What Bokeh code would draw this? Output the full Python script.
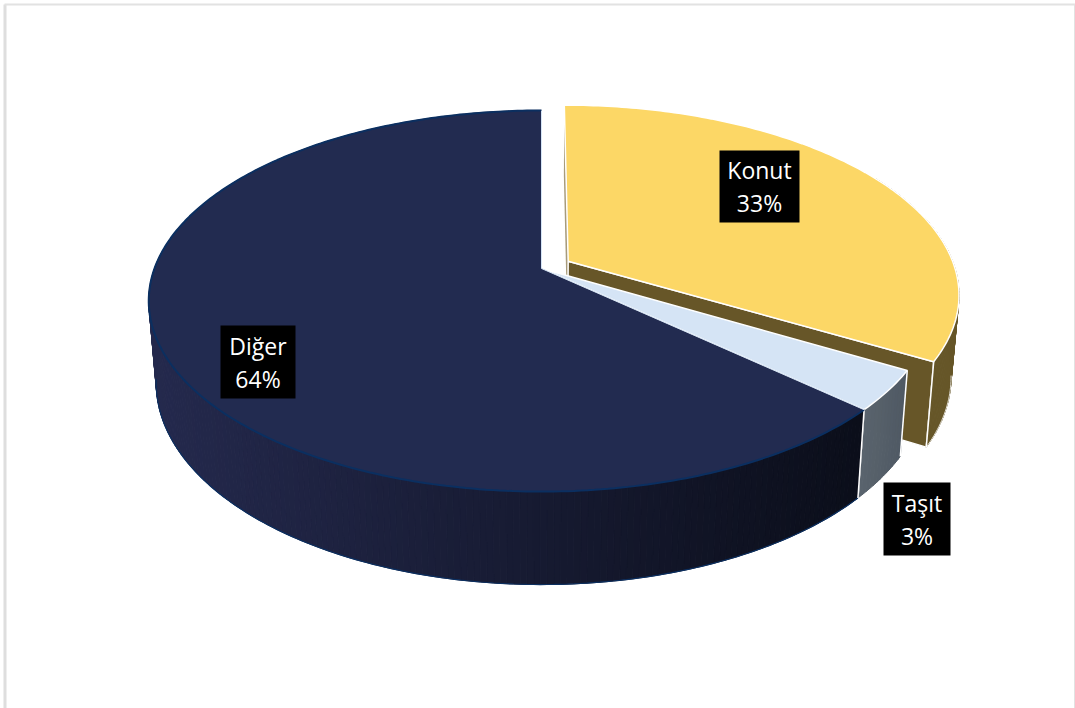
from bokeh.plotting import figure
from bokeh.embed import file_html
from bokeh.resources import INLINE
from bokeh.core.properties import value
import numpy as np

categories = ["Konut", "Taşıt", "Diğer"]
shares = [33.4, 3.4, 63.2]
percent_labels = ["33%", "3%", "64%"]

top_colors = ["#FCD766", "#D5E4F5", "#222B50"]
wall_left = ["#6A5A2C", "#5A646D", "#24294D"]
wall_right = ["#665628", "#4F5964", "#0B0E1A"]
explode = [0.08, 0.0, 0.0]
label_boxes = [(719, 799, 150, 222), (883, 950, 482, 555), (220, 295, 325, 398)]

AX, AY, A, B, K = 541.0, 268.0, 387.0, 185.0, 0.1706
SHRINK, D0, DS = 0.981, 88.0, 0.058


def top(theta, r, off):
    """theta clockwise from 12 o'clock, in degrees; r relative radius."""
    t = np.radians(theta)
    u = r * np.sin(t) + off[0]
    v = -r * np.cos(t) + off[1]
    w = 1 - K * v
    return AX + A * u / w, AY + B * v / w


def bottom(x, y):
    return AX + (x - AX) * SHRINK, y + D0 + (y - 405.0) * DS


def hexrgb(h):
    return np.array([int(h[i:i + 2], 16) for i in (1, 3, 5)], float)


def mix(a, b, f):
    c = hexrgb(a) * (1 - f) + hexrgb(b) * f
    return "#%02x%02x%02x" % tuple(int(round(n)) for n in c)


p = figure(width=1075, height=708, x_range=(0, 1075), y_range=(708, 0),
           output_backend="svg", toolbar_location=None, min_border=0,
           outline_line_color=None, background_fill_color="white", border_fill_color="white")
p.axis.visible = False
p.grid.visible = False

# frame
p.line([4.5, 4.5], [4, 708], line_color="#DEDEDE", line_width=3)
p.line([4, 1074.5, 1074.5], [4, 4, 708], line_color="#E2E2E2", line_width=2)

starts = np.cumsum([0] + shares[:-1]) * 3.6
ends = np.cumsum(shares) * 3.6

for i in range(3):
    a0, a1 = starts[i], ends[i]
    mid = np.radians((a0 + a1) / 2)
    off = (explode[i] * np.sin(mid), -explode[i] * np.cos(mid))
    thetas = np.linspace(a0, a1, max(8, int((a1 - a0) * 1.2)))
    rx, ry = top(thetas, 1.0, off)
    bx, by = bottom(rx, ry)
    ax, ay = top(0.0, 0.0, off)
    abx, aby = bottom(ax, ay)

    # inner cut faces
    if explode[i] > 0:
        p.patch([ax, rx[0], bx[0], abx], [ay, ry[0], by[0], aby],
                fill_color="#A89B7A", line_color=None)
        p.patch([ax, rx[-1], bx[-1], abx], [ay, ry[-1], by[-1], aby],
                fill_color="#675628", line_color="white", line_width=1.5)

    # outer wall, strip by strip (only the part that faces the viewer)
    xmin, xmax = (148.0, 860.0) if i == 2 else (rx.min(), rx.max())
    qx, qy, qc = [], [], []
    for j in range(len(thetas) - 1):
        if i == 0 and thetas[j] < 60:
            continue
        qx.append([rx[j], rx[j + 1], bx[j + 1], bx[j]])
        qy.append([ry[j], ry[j + 1], by[j + 1], by[j]])
        f = float(np.clip(((rx[j] + rx[j + 1]) / 2 - xmin) / (xmax - xmin), 0, 1))
        qc.append(mix(wall_left[i], wall_right[i], f))
    p.patches(qx, qy, fill_color=qc, line_color=qc, line_width=1)

    edge = "#0B2F60" if i == 2 else "white"
    front = (thetas > 100) & (thetas < 262)
    if i != 1:
        p.line(bx[front], by[front], line_color=edge, line_width=1.2 if i == 2 else 0.8)
    # vertical edges of the wall
    vis = [-1] if i == 0 else ([0, -1] if i == 1 else [0])
    for e in vis:
        p.line([rx[e], bx[e]], [ry[e], by[e]], line_color="white", line_width=1.5)

    # top face
    p.patch(np.r_[ax, rx], np.r_[ay, ry], fill_color=top_colors[i], line_color=None)
    if i == 2:
        p.line(rx, ry, line_color=edge, line_width=2)
        p.line([rx[-1], ax, rx[0]], [ry[-1], ay, ry[0]], line_color="#D5E4F5", line_width=1)
    else:
        p.line(np.r_[ax, rx, ax], np.r_[ay, ry, ay], line_color="white", line_width=1.5)

# labels
for i, (x0, x1, y0, y1) in enumerate(label_boxes):
    p.quad(left=[x0], right=[x1], top=[y0], bottom=[y1], fill_color="black", line_color=None)
    xc, h = (x0 + x1) / 2, (y1 - y0) / 2
    for txt, yy in ((categories[i], y0 + h * 0.55), (percent_labels[i], y0 + h * 1.46)):
        p.text([xc], [yy], text=[txt], text_color="white", text_align="center",
               text_baseline="middle", text_font=value("Open Sans"), text_font_size="23px")

html = file_html(p, INLINE)
open("out.html", "w").write(html)
